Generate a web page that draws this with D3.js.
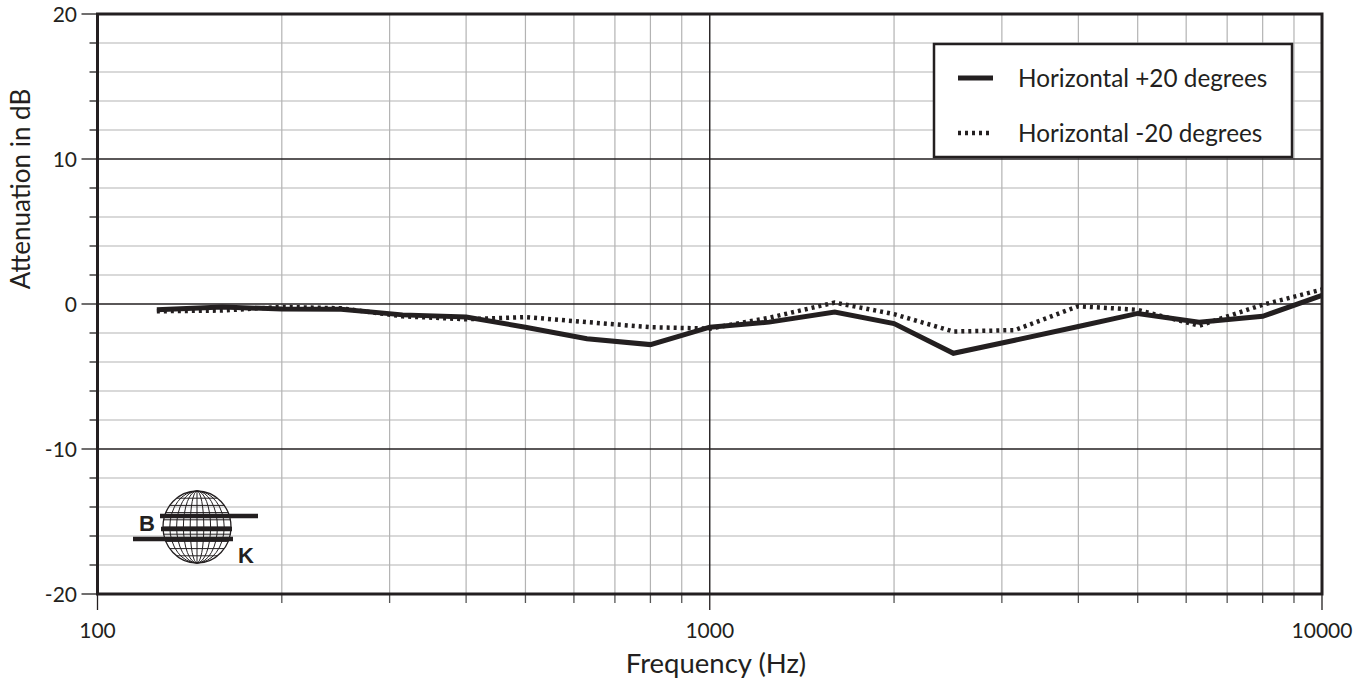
<!DOCTYPE html>
<html>
<head>
<meta charset="utf-8">
<script src="https://cdn.jsdelivr.net/npm/d3@7"></script>
<style>
  html, body { margin: 0; padding: 0; background: #fff; }
  svg { display: block; }
  text { font-family: Lato, "Open Sans", sans-serif; fill: #231f20; }
</style>
</head>
<body>
<svg id="chart" width="1369" height="682"></svg>
<script>
// ---- data ----
const frequencies = [125, 160, 200, 250, 315, 400, 500, 630, 800, 1000, 1250, 1600, 2000, 2500, 3150, 4000, 5000, 6300, 8000, 10000];
const plus20 = [-0.4, -0.2, -0.35, -0.37, -0.75, -0.9, -1.6, -2.4, -2.8, -1.6, -1.25, -0.55, -1.35, -3.4, -2.5, -1.55, -0.65, -1.25, -0.85, 0.6];
const minus20 = [-0.5, -0.45, -0.2, -0.3, -0.85, -1.05, -0.9, -1.25, -1.6, -1.7, -0.95, 0.1, -0.7, -1.9, -1.8, -0.15, -0.4, -1.5, -0.05, 1.0];
const seriesNames = ["Horizontal +20 degrees", "Horizontal -20 degrees"];
const xTickLabels = [100, 1000, 10000];
const yTickLabels = [-20, -10, 0, 10, 20];
const xLabel = "Frequency (Hz)";
const yLabel = "Attenuation in dB";

// ---- layout ----
const ink = "#231f20";
const svg = d3.select("#chart");
const x = d3.scaleLog().domain([100, 10000]).range([97.5, 1322]);
const y = d3.scaleLinear().domain([-20, 20]).range([594, 14]);

const minorX = [];
[100, 1000].forEach(d => { for (let k = 2; k <= 9; k++) minorX.push(d * k); });
const allY = d3.range(-20, 21, 2);

const g = svg.append("g");

// grid
g.selectAll(".gx").data(minorX).join("line")
  .attr("x1", d => x(d)).attr("x2", d => x(d))
  .attr("y1", y(20)).attr("y2", y(-20))
  .attr("stroke", "#b3b3b3").attr("stroke-width", 1.2);
g.selectAll(".gy").data(allY.filter(d => d % 10 !== 0)).join("line")
  .attr("x1", x(100)).attr("x2", x(10000))
  .attr("y1", d => y(d)).attr("y2", d => y(d))
  .attr("stroke", "#b3b3b3").attr("stroke-width", 1.2);
g.append("line")
  .attr("x1", x(1000)).attr("x2", x(1000)).attr("y1", y(20)).attr("y2", y(-20))
  .attr("stroke", ink).attr("stroke-width", 1.4);
g.selectAll(".gym").data([-10, 0, 10]).join("line")
  .attr("x1", x(100)).attr("x2", x(10000))
  .attr("y1", d => y(d)).attr("y2", d => y(d))
  .attr("stroke", ink).attr("stroke-width", 1.4);

// ticks
g.selectAll(".ty").data(allY).join("line")
  .attr("x1", d => d % 10 === 0 ? x(100) - 16 : x(100) - 8).attr("x2", x(100))
  .attr("y1", d => y(d)).attr("y2", d => y(d))
  .attr("stroke", ink).attr("stroke-width", 1.3);
g.selectAll(".tx").data(minorX).join("line")
  .attr("x1", d => x(d)).attr("x2", d => x(d))
  .attr("y1", y(-20)).attr("y2", y(-20) + 9)
  .attr("stroke", "#555").attr("stroke-width", 1.3);
g.selectAll(".txm").data(xTickLabels).join("line")
  .attr("x1", d => x(d)).attr("x2", d => x(d))
  .attr("y1", y(-20)).attr("y2", y(-20) + 16)
  .attr("stroke", ink).attr("stroke-width", 1.3);

// frame
g.append("rect")
  .attr("x", x(100)).attr("y", y(20))
  .attr("width", x(10000) - x(100)).attr("height", y(-20) - y(20))
  .attr("fill", "none").attr("stroke", ink).attr("stroke-width", 3);

// tick labels
g.selectAll(".lx").data(xTickLabels).join("text")
  .attr("x", d => x(d)).attr("y", 638)
  .attr("text-anchor", "middle").attr("font-size", 21)
  .text(d => d);
g.selectAll(".ly").data(yTickLabels).join("text")
  .attr("x", 77).attr("y", d => y(d)).attr("dy", "0.36em")
  .attr("text-anchor", "end").attr("font-size", 21)
  .text(d => d);

// axis titles
svg.append("text").attr("x", 716).attr("y", 673)
  .attr("text-anchor", "middle").attr("font-size", 27.5).text(xLabel);
svg.append("text").attr("transform", "translate(30,189) rotate(-90)")
  .attr("text-anchor", "middle").attr("font-size", 26).text(yLabel);

// series
const line = d3.line().x(d => x(d[0])).y(d => y(d[1]));
g.append("path").datum(d3.zip(frequencies, minus20))
  .attr("d", line).attr("fill", "none").attr("stroke", ink)
  .attr("stroke-width", 4.5).attr("stroke-dasharray", "3,4");
g.append("path").datum(d3.zip(frequencies, plus20))
  .attr("d", line).attr("fill", "none").attr("stroke", ink)
  .attr("stroke-width", 5).attr("stroke-linejoin", "miter");

// legend
const lg = svg.append("g");
lg.append("rect").attr("x", 934).attr("y", 44).attr("width", 358).attr("height", 113)
  .attr("fill", "#fff").attr("stroke", ink).attr("stroke-width", 2.5);
const legendRows = [
  { name: seriesNames[0], w: 5, dash: null, yy: 78 },
  { name: seriesNames[1], w: 4.5, dash: "3,4", yy: 133 }
];
legendRows.forEach(r => {
  lg.append("line").attr("x1", 958).attr("x2", 993).attr("y1", r.yy).attr("y2", r.yy)
    .attr("stroke", ink).attr("stroke-width", r.w).attr("stroke-dasharray", r.dash);
  lg.append("text").attr("x", 1018).attr("y", r.yy).attr("dy", "0.36em")
    .attr("font-size", 24.3).text(r.name);
});

// logo (B K globe)
const logo = svg.append("g").attr("stroke", ink).attr("fill", "none").attr("stroke-width", 1);
const cx = 197, cy = 527, rx = 34, ry = 36;
logo.append("ellipse").attr("cx", cx).attr("cy", cy).attr("rx", rx).attr("ry", ry).attr("stroke-width", 1.3);
[0.2, 0.4, 0.6, 0.8].forEach(f => {
  logo.append("ellipse").attr("cx", cx).attr("cy", cy).attr("rx", rx * f).attr("ry", ry);
});
logo.append("line").attr("x1", cx).attr("x2", cx).attr("y1", cy - ry).attr("y2", cy + ry);
d3.range(-4, 5).forEach(k => {
  const dy = k * 7.2;
  const hw = rx * Math.sqrt(Math.max(0, 1 - (dy / ry) * (dy / ry)));
  logo.append("line").attr("x1", cx - hw).attr("x2", cx + hw).attr("y1", cy + dy).attr("y2", cy + dy);
});
logo.append("line").attr("x1", 160).attr("x2", 258).attr("y1", 516).attr("y2", 516).attr("stroke-width", 4.5);
logo.append("line").attr("x1", 161).attr("x2", 232).attr("y1", 529).attr("y2", 529).attr("stroke-width", 4.5);
logo.append("line").attr("x1", 133).attr("x2", 233).attr("y1", 539).attr("y2", 539).attr("stroke-width", 4.5);
svg.append("text").attr("x", 139).attr("y", 531)
  .style("font-family", "'Liberation Sans', Arial, sans-serif")
  .attr("font-weight", "bold").attr("font-size", 22).text("B");
svg.append("text").attr("x", 238).attr("y", 563)
  .style("font-family", "'Liberation Sans', Arial, sans-serif")
  .attr("font-weight", "bold").attr("font-size", 22).text("K");
</script>
</body>
</html>
